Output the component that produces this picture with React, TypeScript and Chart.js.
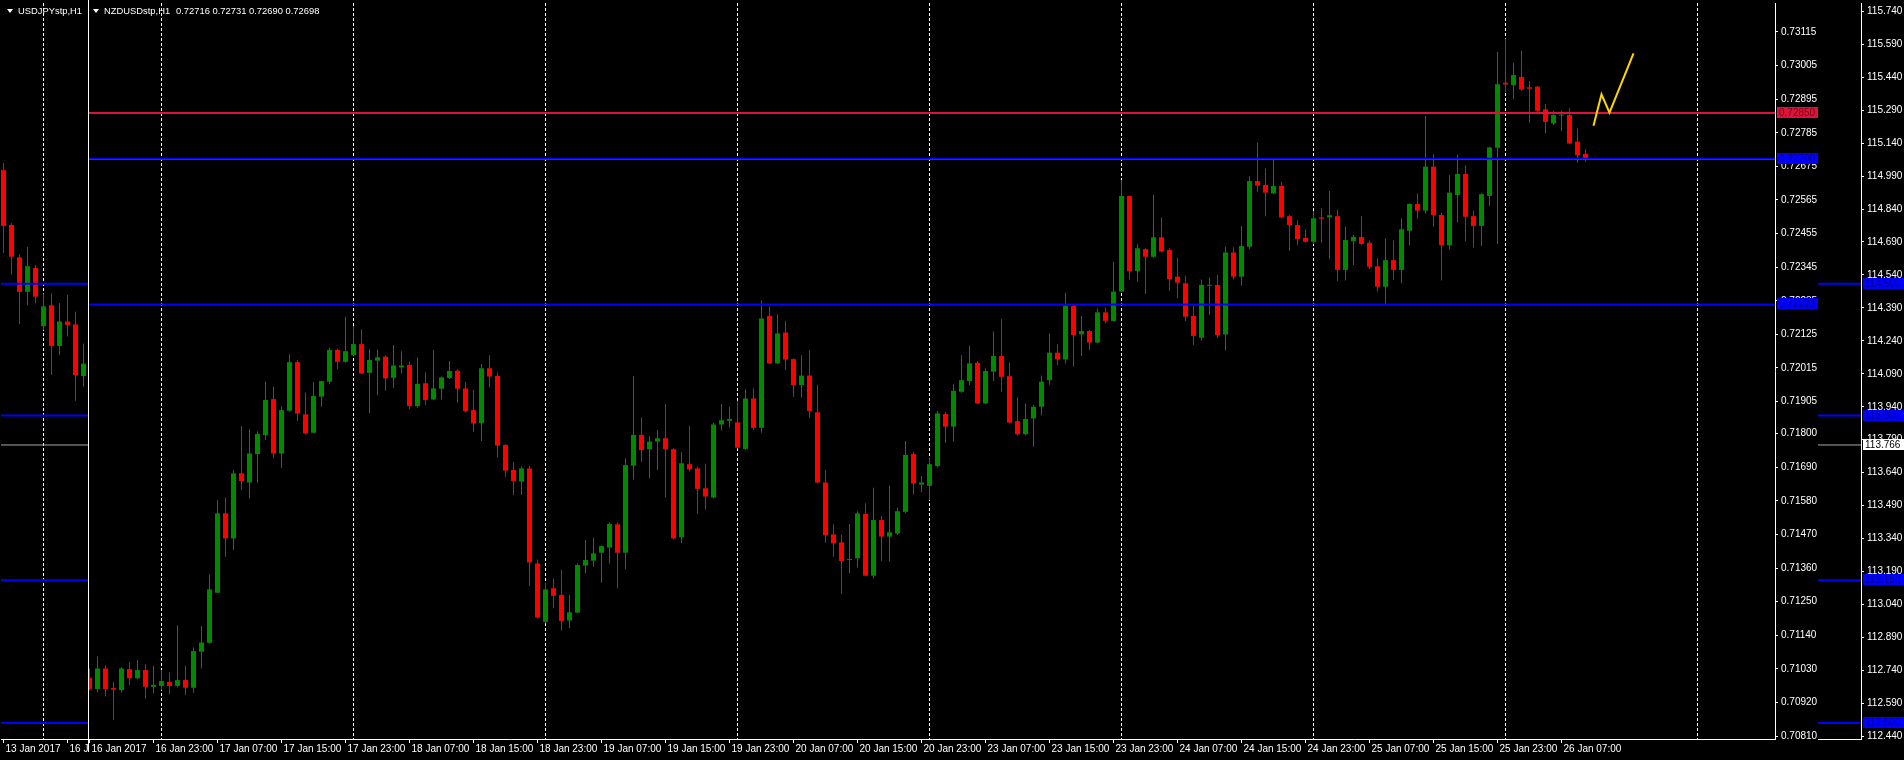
import React, { useEffect, useRef } from "react";
import { Chart, registerables } from "chart.js";
Chart.register(...registerables);

const FONT = '"Liberation Sans", Arial, sans-serif';
const GREEN = "#008a00";
const RED = "#ff0000";

// ---------------- NZDUSD (H1) ----------------
const NZD_OPEN = [
  0.71001, 0.70964, 0.71031, 0.70967, 0.70960, 0.71029, 0.70999, 0.71026, 0.70971, 0.70974,
  0.70987, 0.70974, 0.70993, 0.70968, 0.71086, 0.71115, 0.71279, 0.71539, 0.71457, 0.71670,
  0.71640, 0.71733, 0.71795, 0.71913, 0.71735, 0.71875, 0.72034, 0.71863, 0.71803, 0.71921,
  0.71970, 0.72074, 0.72035, 0.72057, 0.72093, 0.71999, 0.72039, 0.72052, 0.71983, 0.72017,
  0.72025, 0.71890, 0.71965, 0.71912, 0.71947, 0.71982, 0.72006, 0.71948, 0.71877, 0.71834,
  0.72014, 0.71989, 0.71763, 0.71681, 0.71643, 0.71686, 0.71375, 0.71184, 0.71294, 0.71272,
  0.71188, 0.71214, 0.71368, 0.71384, 0.71410, 0.71427, 0.71503, 0.71410, 0.71695, 0.71796,
  0.71749, 0.71774, 0.71785, 0.71749, 0.71461, 0.71700, 0.71686, 0.71621, 0.71591, 0.71830,
  0.71842, 0.71837, 0.71750, 0.71915, 0.71819, 0.72185, 0.72030, 0.72131, 0.72044, 0.71959,
  0.71990, 0.71870, 0.71640, 0.71470, 0.71444, 0.71386, 0.71392, 0.71537, 0.71335, 0.71517,
  0.71463, 0.71473, 0.71544, 0.71733, 0.71633, 0.71629, 0.71694, 0.71864, 0.71823, 0.71937,
  0.71972, 0.72032, 0.71899, 0.72003, 0.72054, 0.71988, 0.71841, 0.71798, 0.71850, 0.71888,
  0.71975, 0.72065, 0.72043, 0.72218, 0.72125, 0.72136, 0.72098, 0.72197, 0.72169, 0.72265,
  0.72578, 0.72332, 0.72404, 0.72379, 0.72443, 0.72401, 0.72314, 0.72292, 0.72185, 0.72114,
  0.72284, 0.72287, 0.72125, 0.72393, 0.72314, 0.72412, 0.72627, 0.72614, 0.72587, 0.72611,
  0.72512, 0.72483, 0.72441, 0.72428, 0.72508, 0.72508, 0.72512, 0.72336, 0.72430, 0.72444,
  0.72425, 0.72348, 0.72281, 0.72368, 0.72336, 0.72464, 0.72552, 0.72530, 0.72674, 0.72516,
  0.72417, 0.72581, 0.72650, 0.72512, 0.72480, 0.72578, 0.72736, 0.72949, 0.72941, 0.72968,
  0.72934, 0.72936, 0.72862, 0.72816, 0.72841, 0.72843, 0.72756, 0.72716,
];
const NZD_HIGH = [
  0.71031, 0.71070, 0.71042, 0.70988, 0.71035, 0.71053, 0.71059, 0.71045, 0.71040, 0.71026,
  0.71018, 0.71173, 0.71040, 0.71100, 0.71170, 0.71340, 0.71582, 0.71591, 0.71681, 0.71825,
  0.71814, 0.71808, 0.71970, 0.71954, 0.71890, 0.72060, 0.72041, 0.71935, 0.71968, 0.71973,
  0.72082, 0.72078, 0.72183, 0.72152, 0.72141, 0.72076, 0.72075, 0.72057, 0.72090, 0.72070,
  0.72036, 0.72049, 0.72001, 0.72074, 0.71987, 0.72038, 0.72011, 0.71970, 0.71943, 0.72028,
  0.72057, 0.72000, 0.71765, 0.71708, 0.71692, 0.71694, 0.71388, 0.71312, 0.71326, 0.71354,
  0.71272, 0.71375, 0.71452, 0.71459, 0.71434, 0.71509, 0.71509, 0.71719, 0.71989, 0.71853,
  0.71792, 0.71812, 0.71897, 0.71752, 0.71739, 0.71826, 0.71692, 0.71701, 0.71836, 0.71897,
  0.71888, 0.71908, 0.71945, 0.71948, 0.72235, 0.72215, 0.72191, 0.72169, 0.72046, 0.72057,
  0.72074, 0.71959, 0.71681, 0.71503, 0.71470, 0.71504, 0.71546, 0.71572, 0.71623, 0.71530,
  0.71629, 0.71557, 0.71776, 0.71741, 0.71661, 0.71719, 0.71875, 0.71872, 0.71962, 0.72057,
  0.72088, 0.72038, 0.72014, 0.72134, 0.72175, 0.72032, 0.71918, 0.71899, 0.71894, 0.71990,
  0.72128, 0.72093, 0.72261, 0.72221, 0.72185, 0.72139, 0.72210, 0.72213, 0.72363, 0.72630,
  0.72580, 0.72420, 0.72407, 0.72583, 0.72508, 0.72407, 0.72376, 0.72317, 0.72218, 0.72305,
  0.72311, 0.72319, 0.72412, 0.72410, 0.72480, 0.72643, 0.72753, 0.72668, 0.72696, 0.72625,
  0.72516, 0.72499, 0.72469, 0.72529, 0.72538, 0.72594, 0.72534, 0.72478, 0.72452, 0.72512,
  0.72432, 0.72374, 0.72439, 0.72432, 0.72505, 0.72554, 0.72587, 0.72840, 0.72715, 0.72523,
  0.72647, 0.72712, 0.72679, 0.72529, 0.72587, 0.72739, 0.73050, 0.73094, 0.73014, 0.73054,
  0.72954, 0.72938, 0.72879, 0.72857, 0.72857, 0.72865, 0.72799, 0.72731,
];
const NZD_LOW = [
  0.70960, 0.70953, 0.70939, 0.70862, 0.70952, 0.70977, 0.70996, 0.70933, 0.70950, 0.70960,
  0.70947, 0.70969, 0.70944, 0.70952, 0.71031, 0.71113, 0.71277, 0.71397, 0.71419, 0.71615,
  0.71588, 0.71639, 0.71779, 0.71719, 0.71688, 0.71872, 0.71841, 0.71797, 0.71801, 0.71888,
  0.71962, 0.72011, 0.72032, 0.72055, 0.71995, 0.71866, 0.71926, 0.71940, 0.71950, 0.71997,
  0.71880, 0.71885, 0.71894, 0.71910, 0.71912, 0.71979, 0.71901, 0.71869, 0.71806, 0.71776,
  0.71952, 0.71722, 0.71659, 0.71599, 0.71599, 0.71301, 0.71195, 0.71179, 0.71228, 0.71155,
  0.71163, 0.71212, 0.71343, 0.71364, 0.71312, 0.71375, 0.71294, 0.71356, 0.71650, 0.71708,
  0.71654, 0.71681, 0.71591, 0.71454, 0.71441, 0.71676, 0.71537, 0.71552, 0.71588, 0.71810,
  0.71820, 0.71751, 0.71746, 0.71812, 0.71803, 0.72028, 0.72028, 0.72008, 0.71921, 0.71918,
  0.71850, 0.71637, 0.71443, 0.71397, 0.71275, 0.71342, 0.71362, 0.71334, 0.71326, 0.71383,
  0.71381, 0.71468, 0.71539, 0.71601, 0.71610, 0.71583, 0.71690, 0.71770, 0.71774, 0.71934,
  0.71959, 0.71897, 0.71897, 0.71972, 0.71937, 0.71834, 0.71794, 0.71795, 0.71757, 0.71860,
  0.71960, 0.72025, 0.72030, 0.72020, 0.72054, 0.72074, 0.72096, 0.72161, 0.72167, 0.72263,
  0.72305, 0.72297, 0.72257, 0.72376, 0.72393, 0.72267, 0.72243, 0.72169, 0.72090, 0.72104,
  0.72188, 0.72112, 0.72072, 0.72305, 0.72284, 0.72404, 0.72592, 0.72512, 0.72584, 0.72505,
  0.72399, 0.72417, 0.72425, 0.72420, 0.72426, 0.72371, 0.72300, 0.72301, 0.72352, 0.72417,
  0.72338, 0.72265, 0.72224, 0.72303, 0.72292, 0.72417, 0.72503, 0.72521, 0.72477, 0.72301,
  0.72403, 0.72491, 0.72430, 0.72409, 0.72414, 0.72545, 0.72421, 0.72919, 0.72895, 0.72923,
  0.72818, 0.72854, 0.72783, 0.72810, 0.72791, 0.72748, 0.72687, 0.72690,
];
const NZD_CLOSE = [
  0.70964, 0.71031, 0.70964, 0.70962, 0.71031, 0.70999, 0.71026, 0.70971, 0.70977, 0.70990,
  0.70974, 0.70993, 0.70968, 0.71088, 0.71116, 0.71290, 0.71539, 0.71457, 0.71670, 0.71645,
  0.71735, 0.71799, 0.71910, 0.71735, 0.71877, 0.72034, 0.71866, 0.71801, 0.71923, 0.71972,
  0.72074, 0.72035, 0.72070, 0.72093, 0.71997, 0.72041, 0.72050, 0.71981, 0.72023, 0.72023,
  0.71890, 0.71963, 0.71910, 0.71948, 0.71984, 0.72005, 0.71947, 0.71874, 0.71834, 0.72014,
  0.71987, 0.71761, 0.71679, 0.71645, 0.71686, 0.71378, 0.71198, 0.71290, 0.71269, 0.71187,
  0.71215, 0.71370, 0.71386, 0.71408, 0.71432, 0.71504, 0.71410, 0.71697, 0.71796, 0.71746,
  0.71774, 0.71785, 0.71749, 0.71457, 0.71703, 0.71683, 0.71619, 0.71594, 0.71830, 0.71844,
  0.71848, 0.71754, 0.71915, 0.71819, 0.72177, 0.72030, 0.72128, 0.72043, 0.71959, 0.71990,
  0.71874, 0.71640, 0.71468, 0.71441, 0.71383, 0.71388, 0.71539, 0.71335, 0.71517, 0.71463,
  0.71477, 0.71546, 0.71730, 0.71637, 0.71640, 0.71700, 0.71866, 0.71823, 0.71940, 0.71975,
  0.72030, 0.71899, 0.72005, 0.72054, 0.71986, 0.71836, 0.71798, 0.71848, 0.71888, 0.71970,
  0.72065, 0.72043, 0.72218, 0.72123, 0.72136, 0.72098, 0.72197, 0.72169, 0.72265, 0.72578,
  0.72332, 0.72407, 0.72379, 0.72443, 0.72396, 0.72306, 0.72294, 0.72183, 0.72120, 0.72287,
  0.72287, 0.72123, 0.72393, 0.72314, 0.72414, 0.72627, 0.72612, 0.72589, 0.72611, 0.72508,
  0.72483, 0.72437, 0.72428, 0.72505, 0.72504, 0.72515, 0.72336, 0.72434, 0.72444, 0.72421,
  0.72346, 0.72281, 0.72368, 0.72336, 0.72469, 0.72552, 0.72530, 0.72674, 0.72516, 0.72417,
  0.72589, 0.72650, 0.72510, 0.72480, 0.72584, 0.72737, 0.72944, 0.72943, 0.72974, 0.72927,
  0.72929, 0.72857, 0.72821, 0.72843, 0.72843, 0.72750, 0.72712, 0.72698,
];
// one time label every 8 bars, starting at bar 0
const NZD_TIME_LABELS = [
  "16 Jan 2017", "16 Jan 23:00", "17 Jan 07:00", "17 Jan 15:00", "17 Jan 23:00",
  "18 Jan 07:00", "18 Jan 15:00", "18 Jan 23:00", "19 Jan 07:00", "19 Jan 15:00",
  "19 Jan 23:00", "20 Jan 07:00", "20 Jan 15:00", "20 Jan 23:00", "23 Jan 07:00",
  "23 Jan 15:00", "23 Jan 23:00", "24 Jan 07:00", "24 Jan 15:00", "24 Jan 23:00",
  "25 Jan 07:00", "25 Jan 15:00", "25 Jan 23:00", "26 Jan 07:00",
];
const NZD_DAY_STARTS = [9, 33, 57, 81, 105, 129, 153, 177, 201];
const NZD_PRICE_TICKS = [
  0.7081, 0.7092, 0.7103, 0.7114, 0.7125, 0.7136, 0.7147, 0.7158, 0.7169, 0.718,
  0.71905, 0.72015, 0.72125, 0.72235, 0.72345, 0.72455, 0.72565, 0.72675, 0.72785,
  0.72895, 0.73005, 0.73115,
];
const NZD_RED_LINE = 0.7285;
const NZD_BLUE_LINES = [0.727, 0.72223];
const NZD_BID = 0.72698;
const ZIGZAG_X = [188, 189, 190, 193];
const ZIGZAG_Y = [0.72808, 0.72911, 0.72851, 0.73045];

// ---------------- USDJPY (H1) ----------------
const JPY_OPEN = [115.017, 114.768, 114.62, 114.463, 114.572, 114.307, 114.402, 114.216, 114.328, 114.315, 114.08];
const JPY_HIGH = [115.05, 114.775, 114.634, 114.667, 114.585, 114.455, 114.455, 114.411, 114.45, 114.373, 114.228];
const JPY_LOW = [114.64, 114.542, 114.315, 114.402, 114.411, 114.289, 114.084, 114.176, 114.26, 113.967, 114.032];
const JPY_CLOSE = [114.763, 114.623, 114.463, 114.58, 114.441, 114.397, 114.216, 114.328, 114.312, 114.084, 114.136];
const JPY_TIME_LABELS = ["13 Jan 2017", "16 Jan 03:00"];
const JPY_DAY_STARTS = [5];
const JPY_PRICE_TICKS = [
  112.44, 112.59, 112.74, 112.89, 113.04, 113.19, 113.34, 113.49, 113.64, 113.79, 113.94,
  114.09, 114.24, 114.39, 114.54, 114.69, 114.84, 114.99, 115.14, 115.29, 115.44, 115.59, 115.74,
];
const JPY_BLUE_LINES = [114.5, 113.9, 113.15, 112.5];
const JPY_BID = 113.766;

type Tag = { value: number; bg: string; fg: string; text: string };

const tagPlugin = {
  id: "mtTags",
  afterDraw(chart: any, _args: any, opts: any) {
    const { ctx, chartArea, scales } = chart;
    const ys = scales.y;
    ctx.save();
    (opts.tags || []).forEach((t: Tag) => {
      const py = Math.round(ys.getPixelForValue(t.value));
      ctx.fillStyle = t.bg;
      ctx.fillRect(chartArea.right + 2, py - 6, chart.width - chartArea.right - 2, 11);
      ctx.fillStyle = t.fg;
      ctx.font = `10px ${FONT}`;
      ctx.textBaseline = "middle";
      ctx.textAlign = "left";
      ctx.fillText(t.text, chartArea.right + 4, py);
    });
    ctx.restore();
  },
};

function buildConfig(p: {
  open: number[]; high: number[]; low: number[]; close: number[];
  xmin: number; xmax: number; ymin: number; ymax: number;
  priceTicks: number[]; decimals: number;
  timeLabels: string[]; dayStarts: number[];
  lines: { v: number; color: string; width: number }[];
  zigzag?: { x: number[]; y: number[] };
  tags: Tag[];
}) {
  const idx = p.open.map((_, i) => i);
  const colors = idx.map((i) => (p.close[i] >= p.open[i] ? GREEN : RED));
  const labelIdx = p.timeLabels.map((_, k) => k * 8);
  const datasets: any[] = [];
  if (p.zigzag) {
    datasets.push({
      type: "line",
      data: p.zigzag.x.map((x, k) => ({ x, y: p.zigzag!.y[k] })),
      borderColor: "#ffd700",
      borderWidth: 2,
      pointRadius: 0,
      tension: 0,
      order: 0,
      xAxisID: "x",
      yAxisID: "y",
    });
  }
  p.lines.forEach((l, k) => {
    datasets.push({
      type: "line",
      data: [
        { x: p.xmin, y: l.v },
        { x: p.xmax, y: l.v },
      ],
      borderColor: l.color,
      borderWidth: l.width,
      pointRadius: 0,
      order: 1 + k * 0.01,
      xAxisID: "x",
      yAxisID: "y",
    });
  });
  datasets.push({
    type: "bar",
    data: idx.map((i) => ({ x: i, y: [p.open[i], p.close[i]] })),
    backgroundColor: colors,
    barThickness: 5,
    grouped: false,
    minBarLength: 1,
    inflateAmount: 0,
    borderWidth: 0,
    order: 2,
    xAxisID: "x",
    yAxisID: "y",
  });
  datasets.push({
    type: "bar",
    data: idx.map((i) => ({ x: i, y: [p.low[i], p.high[i]] })),
    backgroundColor: colors,
    barThickness: 1,
    grouped: false,
    minBarLength: 1,
    inflateAmount: 0,
    borderWidth: 0,
    order: 3,
    xAxisID: "x",
    yAxisID: "y",
  });
  const font = { family: FONT, size: 10 };
  return {
    type: "bar",
    data: { datasets },
    plugins: [tagPlugin],
    options: {
      animation: false,
      responsive: false,
      devicePixelRatio: 1,
      events: [],
      layout: { padding: { left: 1, top: 3, right: 0, bottom: 0 } },
      plugins: {
        legend: { display: false },
        tooltip: { enabled: false },
        title: { display: false },
        mtTags: { tags: p.tags },
      },
      scales: {
        x: {
          type: "linear",
          position: "bottom",
          offset: false,
          min: p.xmin,
          max: p.xmax,
          bounds: "data",
          afterBuildTicks: (s: any) => {
            s.ticks = labelIdx.map((v) => ({ value: v }));
          },
          afterFit: (s: any) => {
            s.height = 21;
            s.paddingLeft = 0;
            s.paddingRight = 0;
          },
          ticks: {
            autoSkip: false,
            maxRotation: 0,
            minRotation: 0,
            align: "start",
            labelOffset: 2,
            padding: 0,
            color: "#ffffff",
            font,
            callback: (_v: any, i: number) => p.timeLabels[i] ?? "",
          },
          grid: { offset: false, drawOnChartArea: false, drawTicks: true, tickLength: 4, color: "#ffffff", lineWidth: 1 },
          border: { display: true, color: "#ffffff", width: 1 },
        },
        xg: {
          type: "linear",
          position: "bottom",
          offset: false,
          min: p.xmin,
          max: p.xmax,
          bounds: "data",
          afterBuildTicks: (s: any) => {
            s.ticks = p.dayStarts.map((v) => ({ value: v }));
          },
          afterFit: (s: any) => {
            s.height = 0;
            s.paddingLeft = 0;
            s.paddingRight = 0;
          },
          ticks: { display: false },
          grid: { offset: false, drawOnChartArea: true, drawTicks: false, color: "#ffffff", lineWidth: 1 },
          border: { display: false, dash: [3, 2] },
        },
        y: {
          type: "linear",
          position: "right",
          min: p.ymin,
          max: p.ymax,
          bounds: "data",
          afterBuildTicks: (s: any) => {
            s.ticks = p.priceTicks.map((v) => ({ value: v }));
          },
          afterFit: (s: any) => {
            s.width = 43;
            s.paddingTop = 0;
            s.paddingBottom = 0;
          },
          ticks: {
            autoSkip: false,
            padding: 3,
            color: "#ffffff",
            font,
            callback: (_v: any, i: number) => p.priceTicks[i].toFixed(p.decimals),
          },
          grid: { drawOnChartArea: false, drawTicks: true, tickLength: 3, color: "#ffffff", lineWidth: 1 },
          border: { display: true, color: "#ffffff", width: 1 },
        },
      },
    },
  } as any;
}

const BLUE = "#0000ff";
const BLUE_TXT = "#000090";

export default function App() {
  const jpyRef = useRef<HTMLCanvasElement>(null);
  const nzdRef = useRef<HTMLCanvasElement>(null);

  useEffect(() => {
    document.body.style.margin = "0";
    document.body.style.background = "#000";
    const jpy = new Chart(
      jpyRef.current!,
      buildConfig({
        open: JPY_OPEN, high: JPY_HIGH, low: JPY_LOW, close: JPY_CLOSE,
        xmin: -0.3125, xmax: 232.1875, ymin: 112.4277, ymax: 115.7778,
        priceTicks: JPY_PRICE_TICKS, decimals: 3,
        timeLabels: JPY_TIME_LABELS, dayStarts: JPY_DAY_STARTS,
        lines: [
          { v: JPY_BID, color: "#a8a8a8", width: 1 },
          ...JPY_BLUE_LINES.map((v) => ({ v, color: BLUE, width: 2 })),
        ],
        tags: [
          ...JPY_BLUE_LINES.map((v) => ({ value: v, bg: BLUE, fg: BLUE_TXT, text: v.toFixed(3) })),
          { value: JPY_BID, bg: "#ffffff", fg: "#000000", text: JPY_BID.toFixed(3) },
        ],
      })
    );
    const nzd = new Chart(
      nzdRef.current!,
      buildConfig({
        open: NZD_OPEN, high: NZD_HIGH, low: NZD_LOW, close: NZD_CLOSE,
        xmin: -0.0625, xmax: 210.6875, ymin: 0.708002, ymax: 0.732099,
        priceTicks: NZD_PRICE_TICKS, decimals: 5,
        timeLabels: NZD_TIME_LABELS, dayStarts: NZD_DAY_STARTS,
        lines: [
          { v: NZD_RED_LINE, color: "#dc143c", width: 2 },
          ...NZD_BLUE_LINES.map((v) => ({ v, color: BLUE, width: 2 })),
          { v: NZD_BID, color: "#b8b8c8", width: 1 },
        ],
        zigzag: { x: ZIGZAG_X, y: ZIGZAG_Y },
        tags: [
          { value: NZD_BID, bg: "#ffffff", fg: "#000000", text: NZD_BID.toFixed(5) },
          { value: NZD_RED_LINE, bg: "#dc143c", fg: "#7a0018", text: NZD_RED_LINE.toFixed(5) },
          ...NZD_BLUE_LINES.map((v) => ({ value: v, bg: BLUE, fg: BLUE_TXT, text: v.toFixed(5) })),
        ],
      })
    );
    return () => {
      jpy.destroy();
      nzd.destroy();
    };
  }, []);

  const titleStyle: React.CSSProperties = {
    position: "absolute",
    top: 5,
    color: "#ffffff",
    font: `9.4px ${FONT}`,
    lineHeight: "12px",
    whiteSpace: "pre",
  };
  const tri = (left: number): React.CSSProperties => ({
    position: "absolute",
    left,
    top: 9,
    width: 0,
    height: 0,
    borderLeft: "3px solid transparent",
    borderRight: "3px solid transparent",
    borderTop: "4px solid #ffffff",
  });

  return (
    <div style={{ position: "fixed", left: 0, top: 0, width: 1904, height: 760, background: "#000", overflow: "hidden" }}>
      <canvas ref={jpyRef} width={1904} height={760} style={{ position: "absolute", left: 0, top: 0, width: 1904, height: 760 }} />
      <div style={tri(7)} />
      <div style={{ ...titleStyle, left: 18 }}>USDJPYstp,H1</div>
      <canvas ref={nzdRef} width={1730} height={760} style={{ position: "absolute", left: 88, top: 0, width: 1730, height: 760, background: "#000" }} />
      <div style={{ position: "absolute", left: 88, top: 0, width: 1, height: 752, background: "#ffffff" }} />
      <div style={tri(93)} />
      <div style={{ ...titleStyle, left: 104 }}>NZDUSDstp,H1</div>
      <div style={{ ...titleStyle, left: 176 }}>0.72716 0.72731 0.72690 0.72698</div>
    </div>
  );
}
